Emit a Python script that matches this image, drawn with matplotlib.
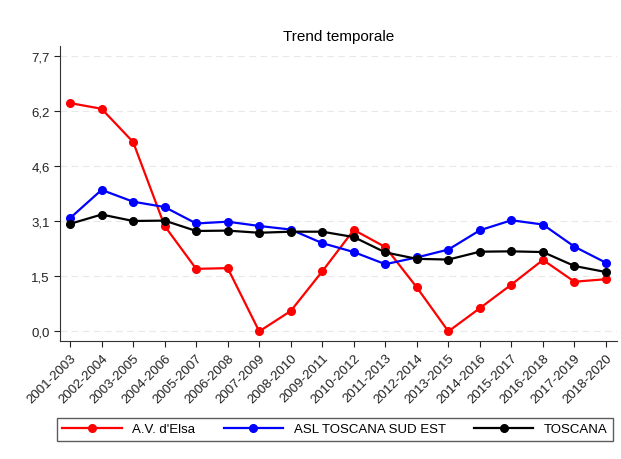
import matplotlib.pyplot as plt
import numpy as np
from matplotlib.ticker import FuncFormatter

plt.rcParams["font.family"] = ["Liberation Sans", "DejaVu Sans"]

# periodi (trienni)
periods = [
    "2001-2003", "2002-2004", "2003-2005", "2004-2006", "2005-2007",
    "2006-2008", "2007-2009", "2008-2010", "2009-2011", "2010-2012",
    "2011-2013", "2012-2014", "2013-2015", "2014-2016", "2015-2017",
    "2016-2018", "2017-2019", "2018-2020",
]

# serie
av_elsa = [6.39, 6.23, 5.30, 2.95, 1.75, 1.77, 0.00, 0.57, 1.68, 2.84,
           2.36, 1.23, 0.00, 0.65, 1.31, 2.00, 1.39, 1.46]
asl_sud_est = [3.17, 3.96, 3.63, 3.48, 3.02, 3.07, 2.95, 2.85, 2.47, 2.22,
               1.88, 2.07, 2.29, 2.83, 3.11, 2.99, 2.37, 1.92]
toscana = [3.01, 3.27, 3.09, 3.10, 2.81, 2.82, 2.76, 2.79, 2.79, 2.64,
           2.21, 2.03, 2.01, 2.23, 2.24, 2.22, 1.83, 1.66]

y_ticks = [0, 1.54, 3.08, 4.62, 6.16, 7.7]

fig = plt.figure(figsize=(6.21, 4.6), dpi=100)
ax = fig.add_axes([0.0966, 0.2565, 0.897, 0.6415])

x = np.arange(len(periods))
ax.plot(x, av_elsa, color="#ff0000", lw=1.6, marker="o", ms=5.5, label="A.V. d'Elsa", zorder=3)
ax.plot(x, asl_sud_est, color="#0000ff", lw=1.6, marker="o", ms=5.5, label="ASL TOSCANA SUD EST", zorder=3)
ax.plot(x, toscana, color="#000000", lw=1.6, marker="o", ms=5.5, label="TOSCANA", zorder=3)

ax.set_xlim(-0.32, 17.35)
ax.set_ylim(-0.27, 7.99)
ax.set_yticks(y_ticks)
ax.yaxis.set_major_formatter(FuncFormatter(lambda v, p: f"{v:.1f}".replace(".", ",")))
ax.set_xticks(x)
ax.set_xticklabels(periods, rotation=45, ha="right", rotation_mode="anchor")

ax.grid(axis="y", color="#e8e8e8", linestyle=(0, (6, 4)), lw=0.8)
ax.spines["top"].set_visible(False)
ax.spines["right"].set_visible(False)
ax.spines["left"].set_color("#333333")
ax.spines["bottom"].set_color("#333333")
ax.tick_params(axis="both", labelsize=9.5, colors="#222222", length=4)

ax.set_title("Trend temporale", fontsize=11, pad=4)

fig.legend(loc="lower left", bbox_to_anchor=(0.092, 0.04, 0.895, 0.058),
           mode="expand", ncol=3, fontsize=9.5, frameon=True, fancybox=False,
           edgecolor="#333333", handlelength=4.5, numpoints=1, borderaxespad=0)

fig.savefig("out.png", dpi=100)
